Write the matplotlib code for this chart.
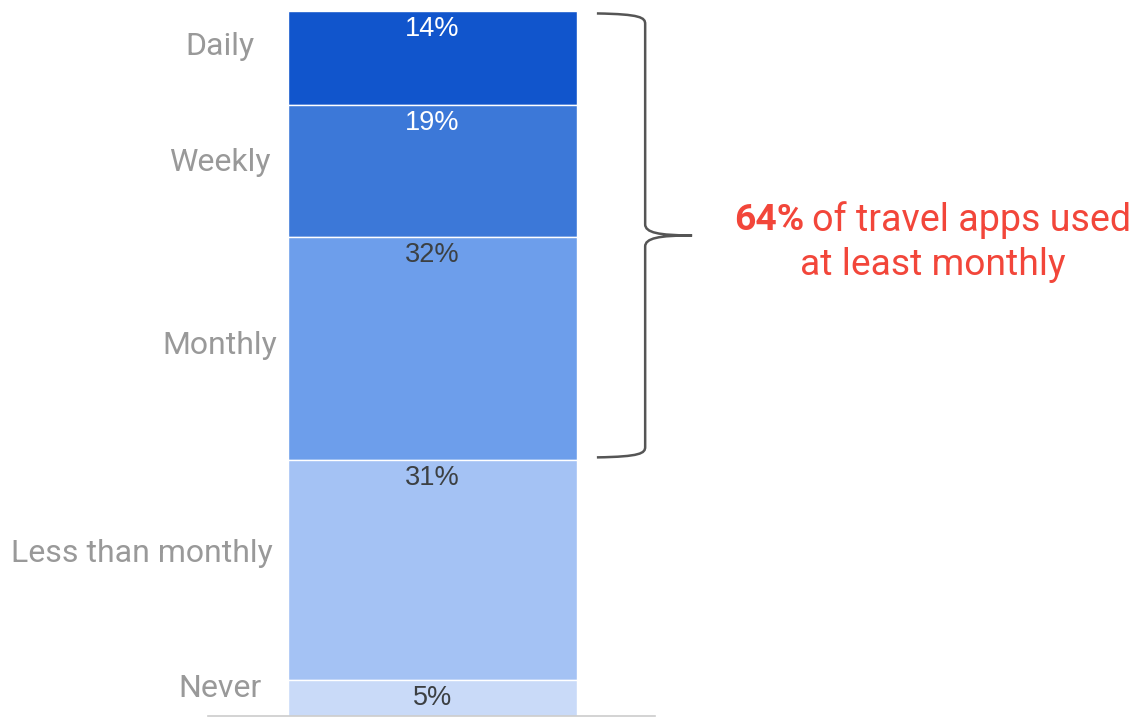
import matplotlib.pyplot as plt
from matplotlib.path import Path
from matplotlib.patches import PathPatch
import numpy as np

categories = ["Daily", "Weekly", "Monthly", "Less than monthly", "Never"]
shares = [13.5, 18.9, 31.9, 31.5, 5.2]  # estimated from block heights
share_labels = ["14%", "19%", "32%", "31%", "5%"]
colors = ["#1155cc", "#3c78d8", "#6d9eeb", "#a4c2f4", "#c9daf8"]
label_colors = ["white", "white", "#3c4043", "#3c4043", "#3c4043"]
highlight_value = "64%"
highlight_rest = "of travel apps used"
highlight_line2 = "at least monthly"
braced = 3  # Daily + Weekly + Monthly

W, H = 1136, 717
fig = plt.figure(figsize=(W / 100, H / 100), dpi=100)
ax = fig.add_axes([208 / W, 1 / H, 447 / W, 705 / H])

bottoms = np.concatenate([[0], np.cumsum(shares)[:-1]])
total = sum(shares)

ax.bar([0.5025] * len(shares), shares, bottom=bottoms, width=0.647,
       color=colors, edgecolor="white", linewidth=1)

ax.set_xlim(0, 1)
ax.set_ylim(total, 0)
for s in ["top", "left", "right"]:
    ax.spines[s].set_visible(False)
ax.spines["bottom"].set_color("#cccccc")
ax.spines["bottom"].set_linewidth(1.2)
ax.set_xticks([])
ax.set_yticks([])

# segment value labels near the top of each block
for b, lab, c in zip(bottoms, share_labels, label_colors):
    ax.text(0.5025, b + 2.6, lab, ha="center", va="center", fontsize=19.5,
            color=c, family="Liberation Sans")

# category names on the left (sit a little above each block's middle)
lifts = [1.6, 1.2, 0.5, 2.4, 1.4]
for b, s, name, lift in zip(bottoms, shares, categories, lifts):
    y = b + s / 2 - lift
    if name == "Less than monthly":
        ax.text(0.144, y, name, ha="right", va="center", fontsize=23,
                color="#999999", family="Roboto", clip_on=False)
    else:
        ax.text(0.026, y, name, ha="center", va="center", fontsize=23,
                color="#999999", family="Roboto", clip_on=False)

# curly brace over the first three segments
y0 = 0.35
y1 = float(np.cumsum(shares)[braced - 1]) - 0.35
ym = (y0 + y1) / 2
xs, xv, xt = 0.870, 0.978, 1.083
verts = [
    (xs, y0), (xv - 0.01, y0 + 0.1), (xv, y0 + 0.6), (xv, y0 + 1.5),
    (xv, ym - 1.6),
    (xv, ym - 0.4), (xv + 0.03, ym), (xt, ym),
    (xv + 0.03, ym), (xv, ym + 0.4), (xv, ym + 1.6),
    (xv, y1 - 1.5),
    (xv, y1 - 0.6), (xv - 0.01, y1 - 0.1), (xs, y1),
]
codes = [Path.MOVETO, Path.CURVE4, Path.CURVE4, Path.CURVE4,
         Path.LINETO,
         Path.CURVE4, Path.CURVE4, Path.CURVE4,
         Path.CURVE4, Path.CURVE4, Path.CURVE4,
         Path.LINETO,
         Path.CURVE4, Path.CURVE4, Path.CURVE4]
ax.add_patch(PathPatch(Path(verts, codes), facecolor="none", edgecolor="#555555",
                       linewidth=1.8, clip_on=False))

# annotation text
red = "#f2463a"
fig.text(804 / W, 1 - 220 / H, highlight_value, ha="right", va="center",
         fontsize=26.8, fontweight="bold", color=red, family="Roboto")
fig.text(812 / W, 1 - 220 / H, highlight_rest, ha="left", va="center",
         fontsize=27.1, color=red, family="Roboto")
fig.text(933 / W, 1 - 265 / H, highlight_line2, ha="center", va="center",
         fontsize=26.8, color=red, family="Roboto")

fig.savefig("out.png", dpi=100)
